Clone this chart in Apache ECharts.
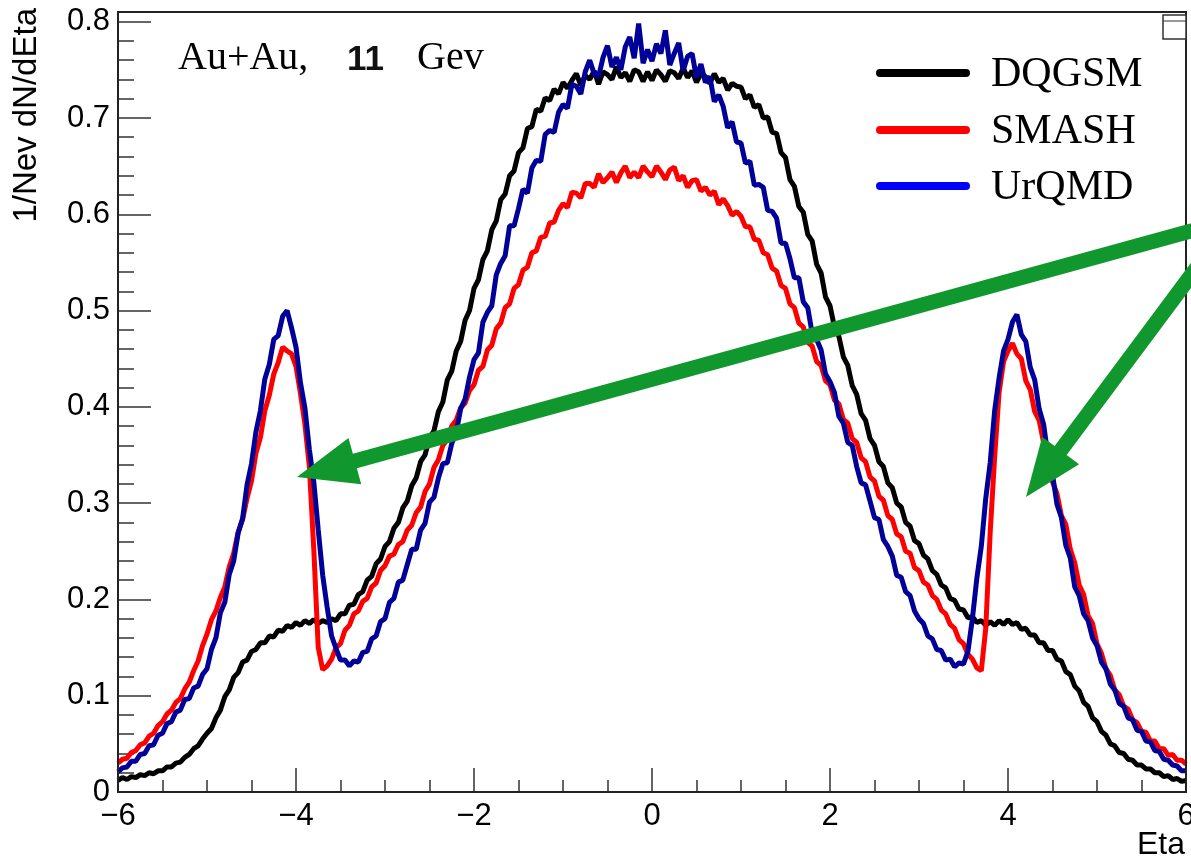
<!DOCTYPE html>
<html>
<head>
<meta charset="utf-8">
<script src="https://cdn.jsdelivr.net/npm/echarts@6.0.0/dist/echarts.min.js"></script>
<style>
  html, body { margin: 0; padding: 0; background: #ffffff; }
  #chart { width: 1191px; height: 860px; }
</style>
</head>
<body>
<div id="chart"></div>
<script>
// ---- Data (bin centres from -6 to 6, step 0.05) ----
const etaMin = -6, etaStep = 0.05, nBins = 241;
const etaBins = [];
for (let i = 0; i < nBins; i++) etaBins.push(+(etaMin + etaStep * i).toFixed(2));

const seriesNames = ['DQGSM', 'SMASH', 'UrQMD'];
const xTickValues = [-6, -4, -2, 0, 2, 4, 6];
const yTickValues = [0, 0.1, 0.2, 0.3, 0.4, 0.5, 0.6, 0.7, 0.8];

const dqgsm = [
  0.012,0.015,0.013,0.016,0.015,0.018,0.017,0.020,0.019,0.022,0.022,0.026,0.026,0.030,0.031,0.036,0.039,0.045,0.048,0.055,
  0.061,0.066,0.077,0.085,0.099,0.106,0.119,0.124,0.135,0.137,0.146,0.148,0.155,0.155,0.162,0.161,0.168,0.167,0.173,0.171,
  0.176,0.173,0.178,0.175,0.179,0.175,0.178,0.176,0.180,0.178,0.185,0.185,0.194,0.195,0.205,0.208,0.220,0.224,0.237,0.242,
  0.255,0.260,0.274,0.280,0.295,0.302,0.318,0.326,0.343,0.350,0.368,0.375,0.395,0.405,0.428,0.437,0.458,0.468,0.490,0.500,
  0.523,0.532,0.553,0.562,0.584,0.593,0.615,0.621,0.640,0.645,0.664,0.669,0.689,0.691,0.709,0.707,0.721,0.718,0.730,0.725,
  0.737,0.731,0.739,0.746,0.734,0.744,0.740,0.749,0.735,0.748,0.745,0.740,0.753,0.742,0.747,0.738,0.750,0.748,0.738,0.748,
  0.739,0.750,0.745,0.738,0.749,0.747,0.741,0.752,0.742,0.749,0.737,0.746,0.743,0.736,0.746,0.737,0.741,0.729,0.736,0.733,
  0.732,0.720,0.724,0.711,0.714,0.700,0.701,0.685,0.684,0.664,0.659,0.636,0.629,0.608,0.602,0.579,0.572,0.548,0.539,0.514,
  0.505,0.483,0.473,0.452,0.443,0.422,0.413,0.393,0.386,0.367,0.360,0.343,0.338,0.321,0.316,0.300,0.296,0.280,0.276,0.261,
  0.258,0.246,0.242,0.230,0.226,0.215,0.212,0.201,0.199,0.190,0.189,0.181,0.182,0.176,0.178,0.173,0.177,0.173,0.178,0.174,
  0.179,0.174,0.176,0.169,0.170,0.163,0.163,0.155,0.155,0.147,0.147,0.138,0.136,0.125,0.122,0.110,0.105,0.093,0.089,0.077,
  0.073,0.063,0.059,0.050,0.048,0.041,0.040,0.034,0.033,0.028,0.028,0.024,0.024,0.020,0.020,0.016,0.017,0.013,0.014,0.011,0.012
];

const smash = [
  0.030,0.034,0.035,0.041,0.043,0.049,0.051,0.058,0.061,0.069,0.073,0.081,0.085,0.093,0.097,0.107,0.114,0.126,0.136,0.152,
  0.164,0.179,0.188,0.202,0.213,0.234,0.248,0.270,0.283,0.305,0.323,0.352,0.368,0.396,0.412,0.434,0.446,0.462,0.458,0.455,
  0.442,0.414,0.382,0.338,0.252,0.150,0.127,0.131,0.138,0.150,0.154,0.168,0.173,0.185,0.188,0.198,0.201,0.213,0.217,0.230,
  0.235,0.245,0.247,0.257,0.260,0.272,0.277,0.290,0.296,0.312,0.320,0.337,0.345,0.360,0.366,0.380,0.386,0.399,0.404,0.417,
  0.423,0.438,0.442,0.459,0.464,0.481,0.487,0.503,0.507,0.523,0.527,0.542,0.545,0.560,0.562,0.576,0.577,0.591,0.592,0.604,
  0.611,0.607,0.623,0.622,0.617,0.632,0.632,0.628,0.642,0.633,0.638,0.644,0.633,0.643,0.650,0.638,0.644,0.638,0.650,0.644,
  0.639,0.650,0.644,0.636,0.646,0.649,0.635,0.640,0.628,0.635,0.636,0.624,0.628,0.620,0.624,0.610,0.616,0.609,0.599,0.603,
  0.598,0.587,0.587,0.574,0.573,0.560,0.558,0.544,0.541,0.526,0.523,0.507,0.503,0.487,0.483,0.467,0.463,0.447,0.443,0.427,
  0.423,0.407,0.403,0.387,0.383,0.367,0.363,0.347,0.343,0.327,0.323,0.307,0.303,0.287,0.283,0.268,0.265,0.250,0.248,0.233,
  0.230,0.218,0.215,0.204,0.200,0.189,0.185,0.174,0.170,0.158,0.154,0.143,0.138,0.129,0.126,0.170,0.270,0.348,0.415,0.447,
  0.458,0.466,0.455,0.450,0.427,0.418,0.395,0.386,0.363,0.348,0.322,0.310,0.287,0.278,0.252,0.238,0.215,0.205,0.183,0.175,
  0.154,0.144,0.128,0.121,0.106,0.101,0.089,0.086,0.075,0.072,0.063,0.062,0.053,0.053,0.045,0.045,0.038,0.039,0.033,0.033,0.029
];

const urqmd = [
  0.021,0.025,0.026,0.032,0.032,0.039,0.040,0.048,0.049,0.059,0.061,0.071,0.073,0.083,0.085,0.096,0.097,0.108,0.110,0.122,
  0.128,0.148,0.160,0.186,0.197,0.226,0.240,0.269,0.284,0.319,0.341,0.374,0.396,0.429,0.444,0.470,0.474,0.494,0.500,0.482,
  0.462,0.425,0.399,0.356,0.322,0.272,0.225,0.192,0.162,0.149,0.137,0.137,0.131,0.136,0.135,0.145,0.146,0.159,0.162,0.177,
  0.180,0.197,0.201,0.218,0.220,0.236,0.252,0.252,0.272,0.279,0.301,0.306,0.326,0.341,0.342,0.362,0.373,0.398,0.408,0.431,
  0.449,0.456,0.488,0.498,0.505,0.537,0.549,0.557,0.588,0.588,0.606,0.626,0.622,0.648,0.656,0.655,0.683,0.687,0.685,0.706,
  0.714,0.710,0.735,0.733,0.725,0.748,0.760,0.746,0.743,0.763,0.775,0.753,0.763,0.750,0.774,0.784,0.762,0.798,0.757,0.771,
  0.759,0.777,0.767,0.791,0.755,0.767,0.778,0.749,0.764,0.767,0.742,0.756,0.737,0.743,0.717,0.724,0.712,0.690,0.696,0.675,
  0.674,0.653,0.655,0.630,0.631,0.628,0.604,0.603,0.596,0.570,0.570,0.554,0.534,0.534,0.509,0.503,0.476,0.470,0.459,0.434,
  0.426,0.415,0.390,0.383,0.363,0.360,0.338,0.321,0.319,0.302,0.285,0.283,0.262,0.255,0.245,0.225,0.223,0.208,0.204,0.188,
  0.180,0.175,0.162,0.159,0.148,0.147,0.137,0.138,0.130,0.134,0.133,0.146,0.180,0.222,0.255,0.305,0.342,0.396,0.430,0.458,
  0.470,0.488,0.496,0.475,0.468,0.441,0.428,0.398,0.382,0.348,0.330,0.299,0.285,0.256,0.243,0.213,0.204,0.185,0.178,0.160,
  0.152,0.135,0.128,0.112,0.106,0.092,0.089,0.077,0.075,0.064,0.063,0.053,0.052,0.043,0.042,0.034,0.033,0.028,0.027,0.022,0.022
];

// ---- Chart ----
const chart = echarts.init(document.getElementById('chart'), null, { renderer: 'canvas' });

const G = { left: 118, right: 5, top: 21.7, bottom: 68 };
const W = 1191, H = 860;
const sans = 'Liberation Sans';
const serif = 'Liberation Serif';
const green = '#10982f';

function arrowPolygon(tip, dir, headLen, headHalf, shaftHalf, shaftLen) {
  const len = Math.hypot(dir[0], dir[1]);
  const u = [dir[0] / len, dir[1] / len];
  const n = [-u[1], u[0]];
  const B = [tip[0] + headLen * u[0], tip[1] + headLen * u[1]];
  const E = [tip[0] + shaftLen * u[0], tip[1] + shaftLen * u[1]];
  return [
    tip,
    [B[0] + headHalf * n[0], B[1] + headHalf * n[1]],
    [B[0] + shaftHalf * n[0], B[1] + shaftHalf * n[1]],
    [E[0] + shaftHalf * n[0], E[1] + shaftHalf * n[1]],
    [E[0] - shaftHalf * n[0], E[1] - shaftHalf * n[1]],
    [B[0] - shaftHalf * n[0], B[1] - shaftHalf * n[1]],
    [B[0] - headHalf * n[0], B[1] - headHalf * n[1]]
  ];
}

const legendColors = ['#000000', '#ff0000', '#0000ff'];
const lineColors = ['#000000', '#ff0000', '#000099'];
const legendRowsY = [73, 130, 186];

const graphics = [];
// frame
graphics.push({
  type: 'rect', z: 50, silent: true,
  shape: { x: G.left, y: 12, width: W - G.right - G.left, height: H - G.bottom - 12 },
  style: { fill: 'none', stroke: '#222', lineWidth: 2 }
});
// stats box (top right)
graphics.push({
  type: 'rect', z: 51, silent: true,
  shape: { x: 1163, y: 15, width: 23, height: 24 },
  style: { fill: '#fff', stroke: '#333', lineWidth: 1.5 }
});
graphics.push({
  type: 'line', z: 52, silent: true,
  shape: { x1: 1163, y1: 21, x2: 1186, y2: 21 },
  style: { stroke: '#333', lineWidth: 1 }
});
// annotation text
graphics.push({ type: 'text', z: 60, silent: true, x: 178, y: 78,
  style: { text: 'Au+Au,', font: '40px "' + serif + '"', fill: '#000', textAlign: 'left', textVerticalAlign: 'bottom' } });
graphics.push({ type: 'text', z: 60, silent: true, x: 347, y: 78,
  style: { text: '11', font: 'bold 35px "' + sans + '"', fill: '#111', textAlign: 'left', textVerticalAlign: 'bottom' } });
graphics.push({ type: 'text', z: 60, silent: true, x: 417, y: 78,
  style: { text: 'Gev', font: '40px "' + serif + '"', fill: '#000', textAlign: 'left', textVerticalAlign: 'bottom' } });
// legend
seriesNames.forEach((name, i) => {
  const y = legendRowsY[i];
  graphics.push({ type: 'line', z: 60, silent: true,
    shape: { x1: 880, y1: y, x2: 966, y2: y },
    style: { stroke: legendColors[i], lineWidth: 8, lineCap: 'round' } });
  graphics.push({ type: 'text', z: 60, silent: true, x: 991, y: y + 2,
    style: { text: name, font: '42px "' + serif + '"', fill: '#000', textAlign: 'left', textVerticalAlign: 'middle' } });
});
// y axis title
graphics.push({ type: 'text', z: 60, silent: true, x: 27, y: 8, rotation: Math.PI / 2,
  style: { text: '1/Nev dN/dEta', font: '33px "' + sans + '"', fill: '#000', textAlign: 'right', textVerticalAlign: 'middle' } });
// x axis title
graphics.push({ type: 'text', z: 60, silent: true, x: 1185, y: 845,
  style: { text: 'Eta', font: '32px "' + sans + '"', fill: '#000', textAlign: 'right', textVerticalAlign: 'middle' } });
// green arrows
graphics.push({ type: 'polygon', z: 70, silent: true,
  shape: { points: arrowPolygon([297, 477], [894, -246], 60, 24, 7.5, 1000) },
  style: { fill: green } });
graphics.push({ type: 'polygon', z: 70, silent: true,
  shape: { points: arrowPolygon([1026, 497], [35, -47], 58, 23, 7.5, 400) },
  style: { fill: green } });

const fmtMinus = v => String(v).replace('-', '\u2212');

const option = {
  backgroundColor: '#ffffff',
  animation: false,
  grid: { left: G.left, right: G.right, top: G.top, bottom: G.bottom, containLabel: false, outerBoundsMode: 'none' },
  xAxis: {
    type: 'value', min: -6, max: 6, interval: 2,
    axisLine: { show: true, onZero: false, lineStyle: { color: '#222', width: 2 } },
    axisTick: { show: true, inside: true, length: 24, lineStyle: { color: '#333', width: 1.5 } },
    minorTick: { show: true, splitNumber: 4, length: 12, lineStyle: { color: '#333', width: 1.5 } },
    splitLine: { show: false },
    axisLabel: {
      show: true, margin: 9, color: '#000', fontFamily: sans, fontSize: 31,
      formatter: v => xTickValues.includes(v) ? fmtMinus(v) : ''
    }
  },
  yAxis: {
    type: 'value', min: 0, max: 0.8, interval: 0.1,
    axisLine: { show: true, onZero: false, lineStyle: { color: '#222', width: 2 } },
    axisTick: { show: true, inside: true, length: 33, lineStyle: { color: '#333', width: 1.5 } },
    minorTick: { show: true, splitNumber: 5, length: 16, lineStyle: { color: '#333', width: 1.5 } },
    splitLine: { show: false },
    axisLabel: {
      show: true, margin: 8, color: '#000', fontFamily: sans, fontSize: 31,
      formatter: v => {
        const r = Math.round(v * 10) / 10;
        return yTickValues.includes(r) ? String(r) : '';
      }
    }
  },
  series: [dqgsm, smash, urqmd].map((arr, i) => ({
    name: seriesNames[i],
    type: 'line',
    data: etaBins.map((x, k) => [x, arr[k]]),
    symbol: 'none',
    smooth: false,
    clip: false,
    z: 2 + i,
    lineStyle: { color: lineColors[i], width: 5 },
    itemStyle: { color: lineColors[i] }
  })),
  graphic: graphics
};

chart.setOption(option);
</script>
</body>
</html>
